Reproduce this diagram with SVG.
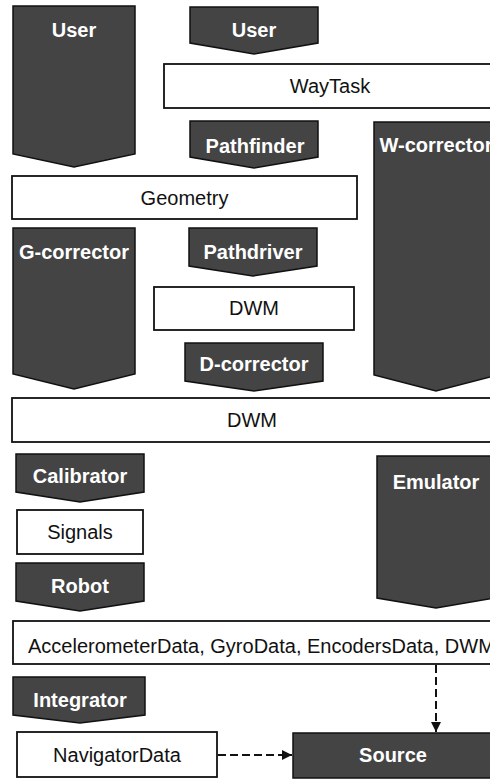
<svg xmlns="http://www.w3.org/2000/svg" width="490" height="779" viewBox="0 0 490 779">
  <style>
    .proc { fill: #444444; stroke: #111111; stroke-width: 1.5; stroke-linejoin: miter; }
    .data { fill: #ffffff; stroke: #111111; stroke-width: 1.8; }
    .ptext { font-family: "Liberation Sans", Arial, sans-serif; font-size: 20px; font-weight: bold; fill: #ffffff; text-anchor: middle; }
    .dtext { font-family: "Liberation Sans", Arial, sans-serif; font-size: 20px; fill: #111111; text-anchor: middle; }
    .flow { fill: none; stroke: #111111; stroke-width: 2; stroke-dasharray: 8 4; }
  </style>
  <defs>
    <marker id="arrow" viewBox="0 0 10 10" refX="10" refY="5" markerWidth="10" markerHeight="10" markerUnits="userSpaceOnUse" orient="auto">
      <path d="M0,0 L10,5 L0,10 Z" fill="#111111"/>
    </marker>
  </defs>

  <rect width="490" height="779" fill="#ffffff"/>

  <g id="user-main">
    <polygon class="proc" points="13,6 135,6 135,154 74,167 13,154"/>
    <text class="ptext" x="74" y="37">User</text>
  </g>
  <g id="user-task">
    <polygon class="proc" points="190,7 318,7 318,43 254,54 190,43"/>
    <text class="ptext" x="254" y="37">User</text>
  </g>
  <g id="waytask">
    <rect class="data" x="164" y="64" width="336" height="44"/>
    <text class="dtext" x="330" y="93">WayTask</text>
  </g>
  <g id="pathfinder">
    <polygon class="proc" points="190,121 318,121 318,157 254,168 190,157"/>
    <text class="ptext" x="255" y="153">Pathfinder</text>
  </g>
  <g id="w-corrector">
    <polygon class="proc" points="374,122 498,122 498,375 436,391 374,375"/>
    <text class="ptext" x="436" y="152">W-corrector</text>
  </g>
  <g id="geometry">
    <rect class="data" x="12" y="176" width="345" height="43"/>
    <text class="dtext" x="184.5" y="205">Geometry</text>
  </g>
  <g id="g-corrector">
    <polygon class="proc" points="13,228 135,228 135,374 74,389 13,374"/>
    <text class="ptext" x="74" y="259">G-corrector</text>
  </g>
  <g id="pathdriver">
    <polygon class="proc" points="189,228 317,228 317,266 253,276 189,266"/>
    <text class="ptext" x="253" y="259">Pathdriver</text>
  </g>
  <g id="dwm-path">
    <rect class="data" x="154" y="287" width="200" height="43"/>
    <text class="dtext" x="254" y="315">DWM</text>
  </g>
  <g id="d-corrector">
    <polygon class="proc" points="185,343 323,343 323,381 254,391 185,381"/>
    <text class="ptext" x="254" y="371">D-corrector</text>
  </g>
  <g id="dwm-corrected">
    <rect class="data" x="12" y="398" width="488" height="44"/>
    <text class="dtext" x="252" y="427">DWM</text>
  </g>
  <g id="calibrator">
    <polygon class="proc" points="16,454 144,454 144,492 80,502 16,492"/>
    <text class="ptext" x="80" y="483">Calibrator</text>
  </g>
  <g id="signals">
    <rect class="data" x="17" y="510" width="126" height="44"/>
    <text class="dtext" x="80" y="539">Signals</text>
  </g>
  <g id="robot">
    <polygon class="proc" points="16,563 144,563 144,601 80,611 16,601"/>
    <text class="ptext" x="80" y="593">Robot</text>
  </g>
  <g id="emulator">
    <polygon class="proc" points="377,456 495,456 495,598 436,608 377,598"/>
    <text class="ptext" x="436" y="489">Emulator</text>
  </g>
  <g id="sensor-data">
    <rect class="data" x="13" y="621" width="487" height="43"/>
    <text class="dtext" x="28" y="653" style="text-anchor:start">AccelerometerData, GyroData, EncodersData, DWM</text>
  </g>
  <g id="integrator">
    <polygon class="proc" points="13,677 145,677 145,715 80,723 13,715"/>
    <text class="ptext" x="80" y="707">Integrator</text>
  </g>
  <g id="navigator-data">
    <rect class="data" x="17" y="732" width="200" height="45"/>
    <text class="dtext" x="117" y="762">NavigatorData</text>
  </g>
  <g id="source">
    <rect class="proc" x="293" y="733" width="207" height="45"/>
    <text class="ptext" x="393" y="762">Source</text>
  </g>

  <g id="connectors">
    <line class="flow" x1="436" y1="665" x2="436" y2="732" marker-end="url(#arrow)"/>
    <line class="flow" x1="218" y1="755" x2="292" y2="755" marker-end="url(#arrow)"/>
  </g>
</svg>
